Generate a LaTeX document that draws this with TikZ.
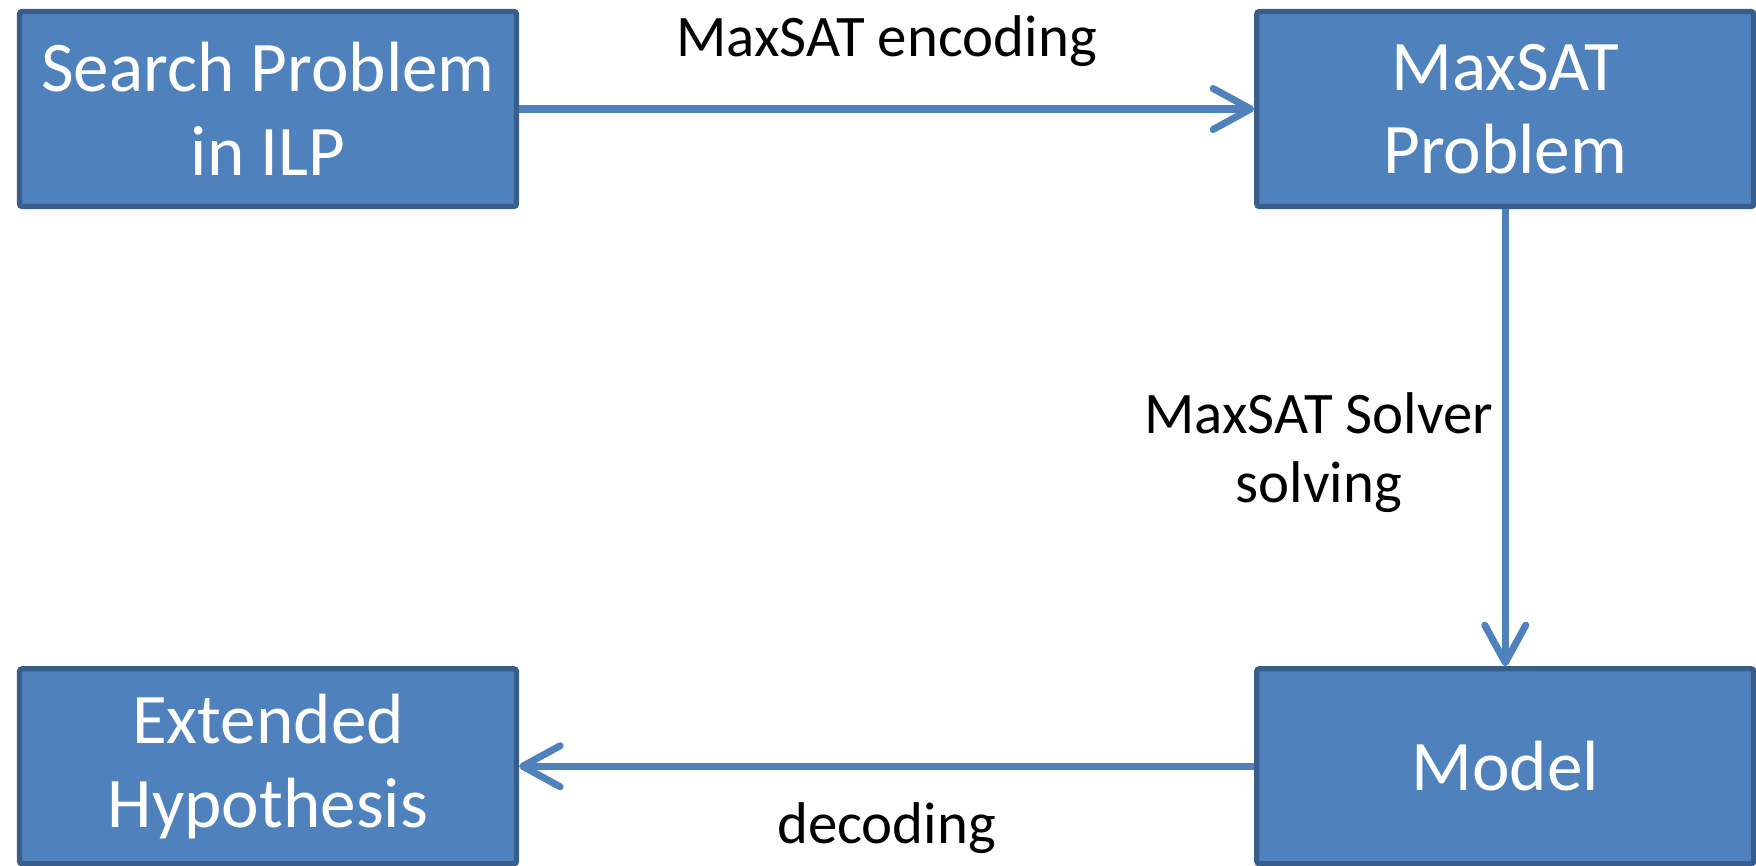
\documentclass[tikz,border=0pt]{standalone}
\usepackage{fontspec}
\setmainfont{Carlito}
\usetikzlibrary{arrows.meta, positioning}
\definecolor{boxblue}{HTML}{4F81BD}
\definecolor{boxedge}{HTML}{385D8A}
\tikzset{
    block/.style={rectangle, draw=boxedge, line width=3pt, fill=boxblue, rounded corners=1.5pt, text=white, text centered, align=center, minimum width=9.94cm, minimum height=3.9cm, font=\fontsize{40.5}{47.6}\selectfont},
    arrow/.style={draw=boxblue, line width=4pt, -{Straight Barb[length=0.75cm, width=0.82cm, round]}},
    edgetext/.style={font=\fontsize{33.5}{39.7}\selectfont, text=black, align=center}
}
\begin{document}
\begin{tikzpicture}[node distance=9.14cm and 14.7cm]
    \useasboundingbox (0,0) rectangle (35.12,-17.32);
    % Boxes
    \node (search) [block] at (5.36,-2.18) {Search Problem\\in ILP};
    \node (maxsat) [block, right=of search] {MaxSAT\\Problem};
    \node (model) [block, below=of maxsat] {Model};
    \node (hypo) [block, below=of search] {Extended\\Hypothesis};
    % Arrows
    \draw [arrow] (search) -- node[edgetext, midway, yshift=1.36cm] {MaxSAT encoding} (maxsat);
    \draw [arrow] (maxsat) -- node[edgetext, midway, left, xshift=-0.05cm, yshift=-0.3cm] {MaxSAT Solver\\solving} (model);
    \draw [arrow] (model) -- node[edgetext, midway, yshift=-1.24cm] {decoding} (hypo);
\end{tikzpicture}
\end{document}
